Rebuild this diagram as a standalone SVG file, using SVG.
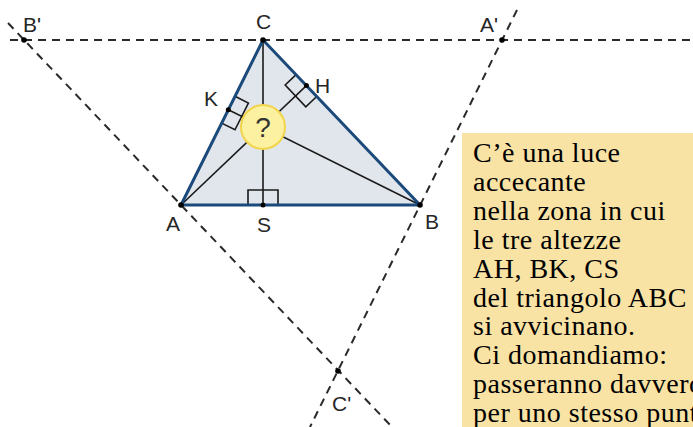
<svg xmlns="http://www.w3.org/2000/svg" width="693" height="427" viewBox="0 0 693 427">
<style>
.dash{stroke:#2a2a2a;stroke-width:2;stroke-dasharray:8 6;fill:none}
.alt{stroke:#1a1a1a;stroke-width:1.6;fill:none}
.mark{stroke:#1a1a1a;stroke-width:1.6;fill:none}
.pt{fill:#000}
.lbl{font-family:"Liberation Sans",Arial,sans-serif;font-size:21px;fill:#262626}
.txt{font-family:"Liberation Serif","Times New Roman",serif;font-size:28px;fill:#000;letter-spacing:0.5px}
</style>
<rect x="0" y="0" width="693" height="427" fill="#ffffff"/>
<g id="triangle-fill">
<polygon points="181,205 420,205 263,40" fill="#E1E6EC"/>
</g>
<g id="connectors">
<line class="dash" x1="10" y1="40" x2="693" y2="40"/>
<line class="dash" x1="8" y1="23" x2="392" y2="427"/>
<line class="dash" x1="517" y1="10" x2="310" y2="427"/>
<line class="alt" x1="181" y1="205" x2="306.4" y2="85.6"/>
<line class="alt" x1="420" y1="205" x2="228.3" y2="109.7"/>
<line class="alt" x1="263" y1="40" x2="263" y2="205"/>
</g>
<g id="marks">
<polyline class="mark" points="248,205 248,190 278,190 278,205"/>
<polyline class="mark" points="316.7,96.5 305.8,106.8 285.2,85 296.1,74.7"/>
<polyline class="mark" points="221.6,123.1 235,129.8 248.4,103 235,96.3"/>
</g>
<g id="triangle">
<polygon points="181,205 420,205 263,40" fill="none" stroke="#1B4A7A" stroke-width="3" stroke-linejoin="round"/>
</g>
<g id="orthocenter">
<circle cx="263" cy="127" r="22" fill="#FBF1A0" stroke="#F2D44A" stroke-width="2"/>
<text x="263" y="137" text-anchor="middle" font-family="Liberation Sans, Arial, sans-serif" font-size="28" fill="#333333">?</text>
</g>
<g id="A"><circle class="pt" cx="181" cy="205" r="2.8"/><text class="lbl" x="166" y="231">A</text></g>
<g id="B"><circle class="pt" cx="420" cy="205" r="2.8"/><text class="lbl" x="425" y="229">B</text></g>
<g id="C"><circle class="pt" cx="263" cy="40" r="2.8"/><text class="lbl" x="256" y="29">C</text></g>
<g id="A1"><circle class="pt" cx="502" cy="40" r="2.8"/><text class="lbl" x="480" y="32">A'</text></g>
<g id="B1"><circle class="pt" cx="24" cy="40" r="2.8"/><text class="lbl" x="23" y="32">B'</text></g>
<g id="C1"><circle class="pt" cx="338" cy="371" r="2.8"/><text class="lbl" x="332" y="411">C'</text></g>
<g id="H"><circle class="pt" cx="306.4" cy="85.6" r="2.5"/><text class="lbl" x="315" y="93">H</text></g>
<g id="K"><circle class="pt" cx="228.3" cy="109.7" r="2.5"/><text class="lbl" x="204" y="106">K</text></g>
<g id="S"><circle class="pt" cx="263" cy="205" r="2.5"/><text class="lbl" x="257" y="232">S</text></g>
<g id="note">
<rect x="462" y="133" width="240" height="300" fill="#F8E3A5"/>
<text class="txt" x="473" y="162">C’è una luce</text>
<text class="txt" x="473" y="191">accecante</text>
<text class="txt" x="473" y="220">nella zona in cui</text>
<text class="txt" x="473" y="249">le tre altezze</text>
<text class="txt" x="473" y="278">AH, BK, CS</text>
<text class="txt" x="473" y="307">del triangolo ABC</text>
<text class="txt" x="473" y="335">si avvicinano.</text>
<text class="txt" x="473" y="364">Ci domandiamo:</text>
<text class="txt" x="473" y="393">passeranno davvero</text>
<text class="txt" x="473" y="422">per uno stesso punto</text>
</g>
</svg>
